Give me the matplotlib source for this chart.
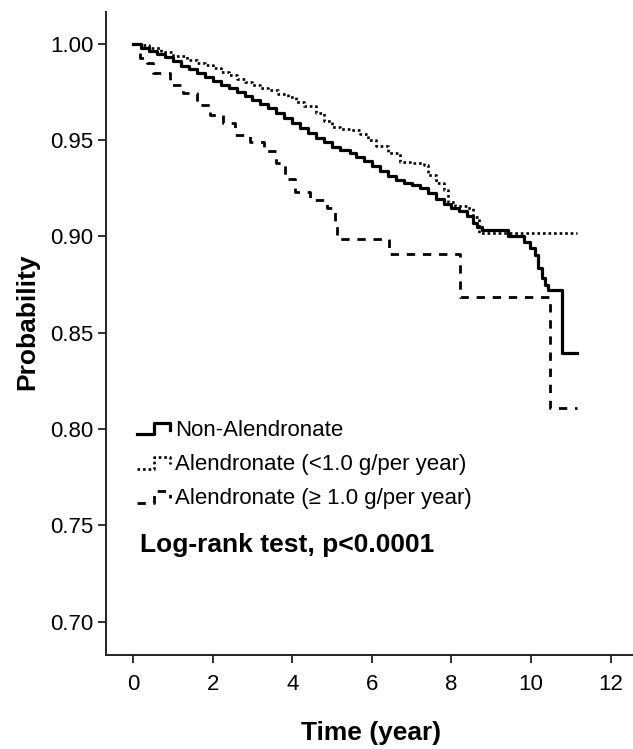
import matplotlib
matplotlib.use('Agg')
import matplotlib.pyplot as plt
import numpy as np
from matplotlib.legend_handler import HandlerBase
from matplotlib.lines import Line2D

plt.rcParams['font.family'] = ['Liberation Sans', 'DejaVu Sans']

# Kaplan-Meier style survival curves
non_t = [0, 0.2, 0.4, 0.6, 0.8, 1.0, 1.2, 1.4, 1.6, 1.8, 2.0, 2.2, 2.4, 2.6, 2.8, 3.0,
         3.2, 3.4, 3.6, 3.8, 4.0, 4.2, 4.4, 4.6, 4.8, 5.0, 5.2, 5.45, 5.6, 5.8, 6.0, 6.2,
         6.4, 6.6, 6.8, 7.0, 7.2, 7.4, 7.6, 7.8, 8.0, 8.2, 8.4, 8.55, 8.65, 8.76, 9.42,
         9.81, 9.97, 10.1, 10.18, 10.27, 10.35, 10.43, 10.77, 11.15]
non_s = [1.0, 0.998, 0.9965, 0.995, 0.993, 0.991, 0.9885, 0.987, 0.985, 0.983, 0.981,
         0.9787, 0.977, 0.975, 0.973, 0.971, 0.969, 0.9665, 0.964, 0.9615, 0.959, 0.9565,
         0.954, 0.951, 0.949, 0.9465, 0.945, 0.9432, 0.9415, 0.939, 0.9365, 0.934, 0.9315,
         0.9295, 0.928, 0.9265, 0.925, 0.9225, 0.9195, 0.917, 0.9147, 0.913, 0.9105, 0.907,
         0.905, 0.9034, 0.900, 0.8973, 0.8939, 0.8904, 0.8835, 0.8783, 0.8750, 0.8722,
         0.8393, 0.8393]

low_t = [0, 0.2, 0.4, 0.7, 1.0, 1.35, 1.6, 1.8, 2.0, 2.2, 2.4, 2.6, 2.8, 3.0, 3.2, 3.4,
         3.65, 3.9, 4.1, 4.3, 4.6, 4.8, 5.0, 5.2, 5.45, 5.7, 5.9, 6.1, 6.4, 6.7, 7.0, 7.3,
         7.4, 7.6, 7.8, 7.9, 8.1, 8.4, 8.55, 8.68, 11.15]
low_s = [1.0, 0.9995, 0.998, 0.996, 0.994, 0.9917, 0.990, 0.989, 0.9875, 0.9856, 0.984,
         0.982, 0.980, 0.9787, 0.977, 0.976, 0.974, 0.9726, 0.970, 0.968, 0.964, 0.960,
         0.957, 0.956, 0.9553, 0.953, 0.950, 0.947, 0.9432, 0.9389, 0.938, 0.937, 0.932,
         0.928, 0.924, 0.918, 0.916, 0.9147, 0.910, 0.902, 0.902]

high_t = [0, 0.18, 0.35, 0.51, 0.93, 1.26, 1.6, 1.93, 2.27, 2.56, 2.95, 3.3, 3.6, 3.82,
          4.07, 4.45, 4.87, 5.08, 5.12, 6.42, 8.22, 10.48, 11.15]
high_s = [1.0, 0.9926, 0.990, 0.9848, 0.9787, 0.9745, 0.9683, 0.963, 0.9588, 0.9527,
          0.949, 0.9445, 0.938, 0.9297, 0.9233, 0.919, 0.9147, 0.9069, 0.8986, 0.891,
          0.8687, 0.8107, 0.8107]

labels = ['Non-Alendronate', 'Alendronate (<1.0 g/per year)', 'Alendronate (\u2265 1.0 g/per year)']
x_ticks = [0, 2, 4, 6, 8, 10, 12]
y_ticks = [0.70, 0.75, 0.80, 0.85, 0.90, 0.95, 1.00]


class StepHandler(HandlerBase):
    # small step symbol like the SPSS legend
    def create_artists(self, legend, orig_handle, xdescent, ydescent, width, height, fontsize, trans):
        xs = np.array([0.0, 0.5, 0.5, 0.97, 0.97]) * width - xdescent
        ys = np.array([0.1, 0.1, 0.85, 0.85, 0.4]) * height - ydescent
        ln = Line2D(xs, ys)
        ln.update_from(orig_handle)
        ln.set_transform(trans)
        return [ln]


fig = plt.figure(figsize=(6.33, 7.49), dpi=100)
ax = fig.add_axes([106 / 633, 1 - 655 / 749, 1 - 106 / 633, (655 - 12) / 749])

l1, = ax.step(non_t, non_s, where='post', color='black', linewidth=2.3, linestyle='-')
l2, = ax.step(low_t, low_s, where='post', color='black', linewidth=1.9, linestyle=(0, (1.0, 1.1)))
l3, = ax.step(high_t, high_s, where='post', color='black', linewidth=2.0, linestyle=(0, (3.0, 2.8)))

ax.set_xlim(-0.68, 12.56)
ax.set_ylim(0.6826, 1.0166)
ax.set_xticks(x_ticks)
ax.set_yticks(y_ticks)
ax.set_yticklabels(['%.2f' % v for v in y_ticks])
ax.tick_params(axis='both', labelsize=16, length=6, width=1.3, color='#222222')
ax.tick_params(axis='y', pad=3)
ax.tick_params(axis='x', pad=8)

for side in ['top', 'right']:
    ax.spines[side].set_visible(False)
for side in ['left', 'bottom']:
    ax.spines[side].set_linewidth(1.4)
    ax.spines[side].set_color('#222222')

ax.set_ylabel('Probability', fontsize=19, fontweight='bold', va='center')
ax.yaxis.set_label_coords((27 - 106) / 527, (655 - 322) / 643)
ax.set_xlabel('Time (year)', fontsize=19, fontweight='bold', va='center')
ax.xaxis.set_label_coords((371 - 106) / 527, (655 - 733) / 643)

ax.legend([l1, l2, l3], labels, handler_map={Line2D: StepHandler()},
          loc='upper left', bbox_to_anchor=(0.03, 0.39), frameon=False,
          fontsize=16, handlelength=1.5, handletextpad=0.2, labelspacing=0.6,
          borderpad=0.2)

ax.text(0.065, 0.171, 'Log-rank test, p<0.0001', transform=ax.transAxes,
        fontsize=19, fontweight='bold', ha='left', va='center')

fig.savefig('out.png', dpi=100)
